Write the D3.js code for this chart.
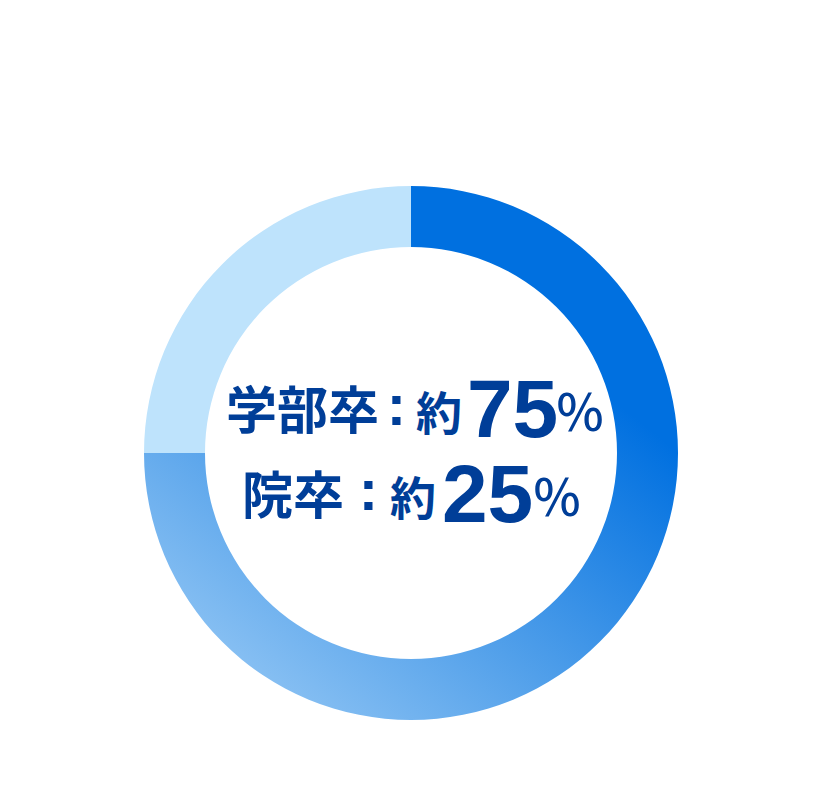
<!DOCTYPE html>
<html>
<head>
<meta charset="utf-8">
<script src="https://cdn.jsdelivr.net/npm/d3@7"></script>
<style>
  body { margin: 0; background: #fff; }
  text { font-family: "Noto Sans CJK JP", "Noto Sans", sans-serif; font-weight: 700; }
</style>
</head>
<body>
<div id="container"></div>
<script>
const categories = ["学部卒", "院卒"];
const values = [75, 25];
const prefix = "約";
const unit = "％";

const width = 820, height = 800;
const cx = 411, cy = 453;
const outerR = 267, innerR = 206;

const svg = d3.select("#container").append("svg")
    .attr("width", width)
    .attr("height", height);

// diagonal gradient for the main slice, dark top-right to pale bottom-left
const defs = svg.append("defs");
const grad = defs.append("linearGradient")
    .attr("id", "mainGrad")
    .attr("gradientUnits", "userSpaceOnUse")
    .attr("x1", cx + outerR * 0.62).attr("y1", cy - outerR * 0.78)
    .attr("x2", cx - outerR * 0.62).attr("y2", cy + outerR * 0.78);
grad.append("stop").attr("offset", "0%").attr("stop-color", "#0070e0");
grad.append("stop").attr("offset", "50%").attr("stop-color", "#52a0ea");
grad.append("stop").attr("offset", "100%").attr("stop-color", "#a3d0f7");

const colors = ["url(#mainGrad)", "#bee3fc"];

const pie = d3.pie().sort(null).value(d => d);
const arc = d3.arc().innerRadius(innerR).outerRadius(outerR);

svg.append("g")
    .attr("transform", `translate(${cx},${cy})`)
  .selectAll("path")
    .data(pie(values))
  .enter().append("path")
    .attr("d", arc)
    .attr("fill", (d, i) => colors[i]);

// label layout per line: baseline of digits, then x of each piece
const rows = [
    { base: 437, catEnd: 379, colon: 396.5, pre: 416, num: 467, pct: 555 },
    { base: 522, catEnd: 344, colon: 368.5, pre: 390, num: 442, pct: 532 }
];

const labels = svg.append("g").attr("fill", "#003e98");

categories.forEach((c, i) => {
    const r = rows[i];
    const row = labels.append("g");
    row.append("text")
        .attr("x", r.catEnd).attr("y", r.base - 8)
        .attr("text-anchor", "end")
        .attr("font-size", 51)
        .text(c);
    row.append("text")
        .attr("x", r.colon).attr("y", r.base - 12)
        .attr("text-anchor", "middle")
        .style("font-family", "'Liberation Sans', Arial, sans-serif")
        .attr("font-size", 58)
        .text(":");
    row.append("text")
        .attr("x", r.pre).attr("y", r.base - 7)
        .attr("font-size", 46)
        .text(prefix);
    row.append("text")
        .attr("x", r.num).attr("y", r.base)
        .style("font-family", "'Liberation Sans', Arial, sans-serif")
        .attr("font-size", 82)
        .text(values[i]);
    row.append("text")
        .attr("x", r.pct).attr("y", r.base - 6)
        .style("font-weight", 500)
        .attr("font-size", 50)
        .text(unit);
});
</script>
</body>
</html>
